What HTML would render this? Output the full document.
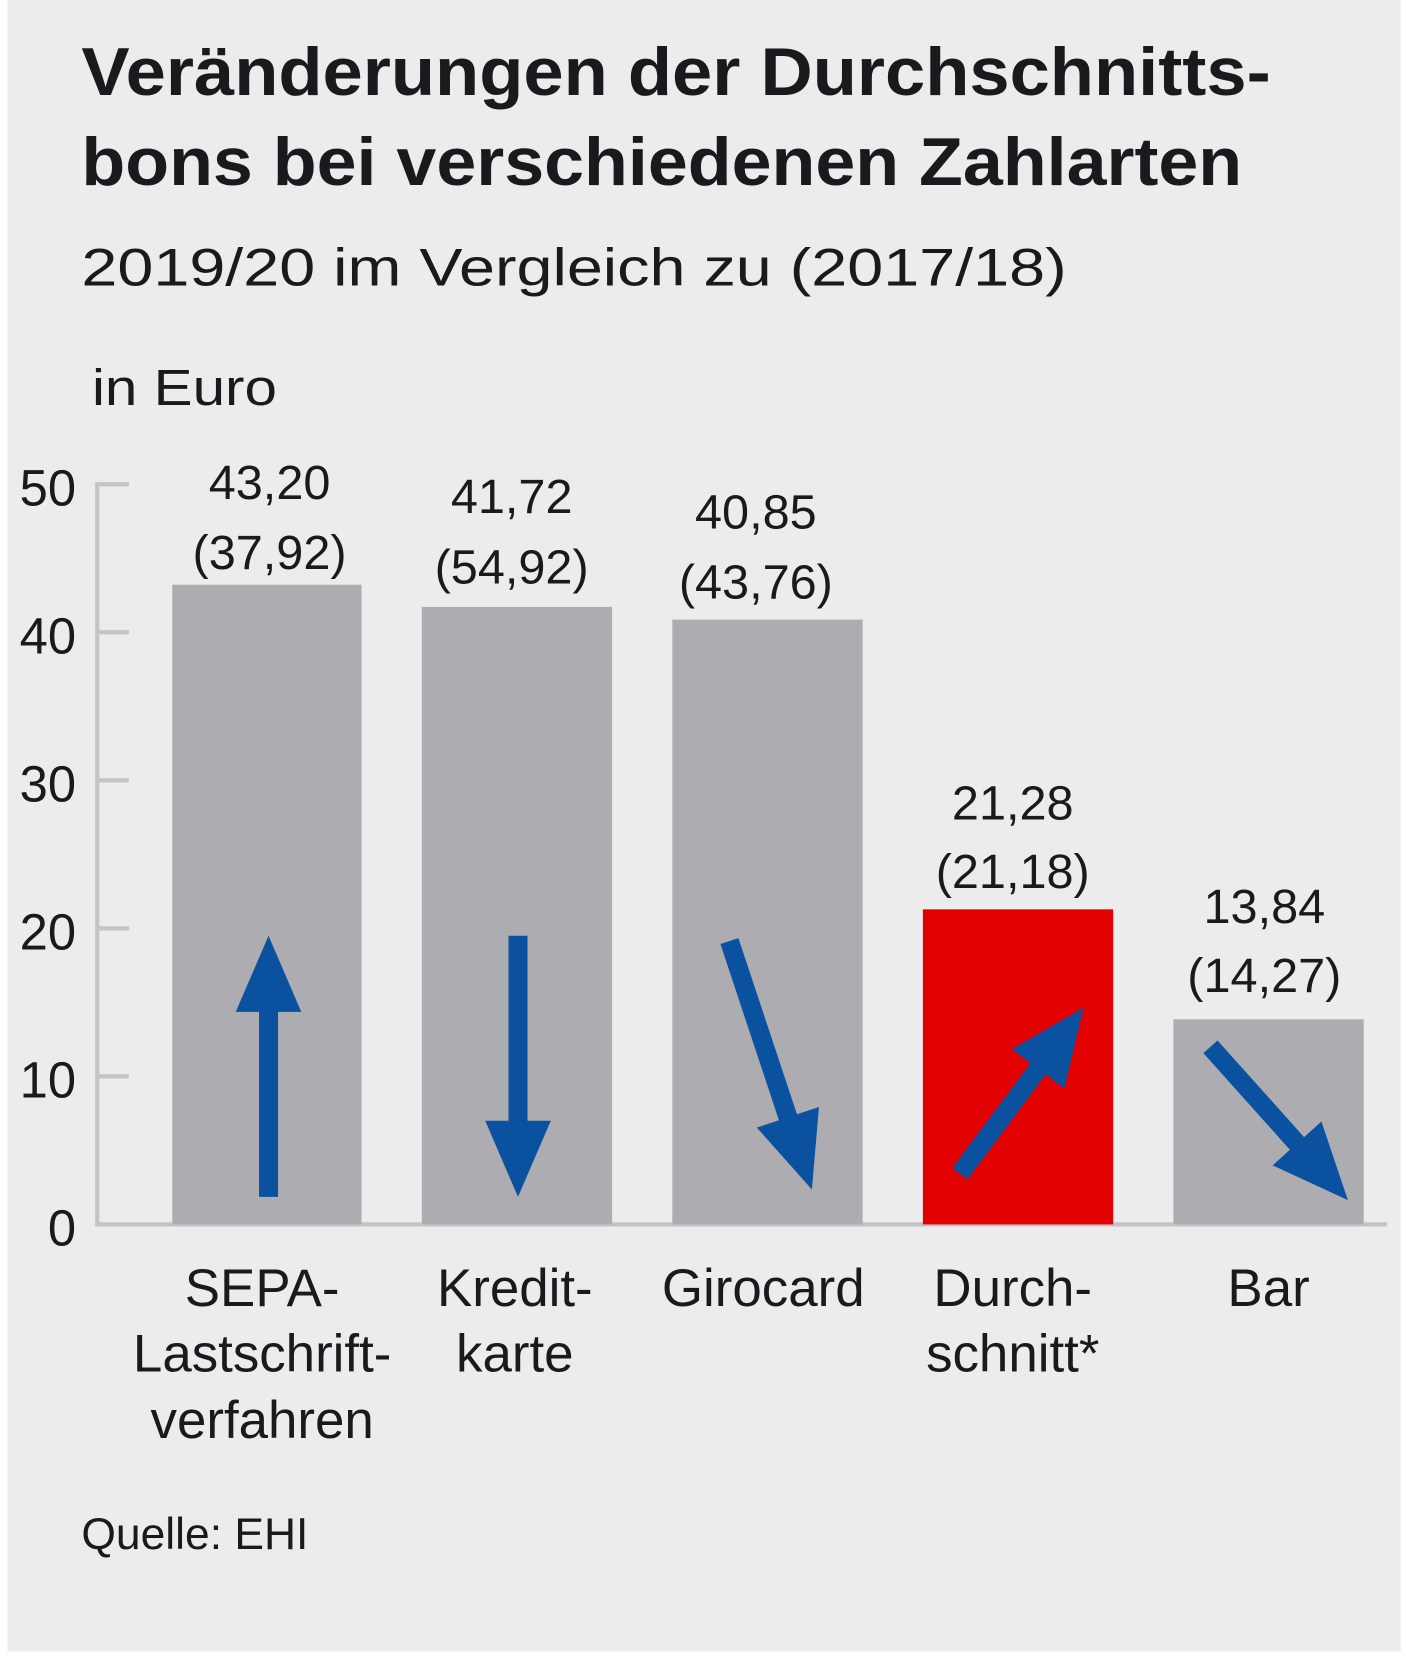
<!DOCTYPE html>
<html><head><meta charset="utf-8"><style>
html,body{margin:0;padding:0;background:#fff}
svg{display:block}
text{font-family:"Liberation Sans",sans-serif;fill:#1a1a1e}
</style></head><body>
<svg width="1406" height="1659" viewBox="0 0 1330 1569" preserveAspectRatio="none" xmlns="http://www.w3.org/2000/svg">
<rect x="7" y="0" width="1318" height="1562" fill="#ececec"/>
<text x="77" y="90" font-size="64" font-weight="bold" textLength="1125" lengthAdjust="spacingAndGlyphs">Veränderungen der Durchschnitts-</text>
<text x="77" y="175" font-size="64" font-weight="bold" textLength="1098" lengthAdjust="spacingAndGlyphs">bons bei verschiedenen Zahlarten</text>
<text x="77" y="270" font-size="50" textLength="932" lengthAdjust="spacingAndGlyphs">2019/20 im Vergleich zu (2017/18)</text>
<text x="87" y="383" font-size="48" textLength="175" lengthAdjust="spacingAndGlyphs">in Euro</text>
<g stroke="#c4c4c8" stroke-width="4">
<line x1="92" y1="456" x2="92" y2="1160"/>
<line x1="90" y1="1158" x2="1312" y2="1158"/>
<line x1="92" y1="458" x2="122" y2="458"/>
<line x1="92" y1="598" x2="122" y2="598"/>
<line x1="92" y1="738" x2="122" y2="738"/>
<line x1="92" y1="878" x2="122" y2="878"/>
<line x1="92" y1="1018" x2="122" y2="1018"/>
</g>
<g font-size="48" text-anchor="end">
<text x="72" y="478">50</text><text x="72" y="618">40</text><text x="72" y="758">30</text>
<text x="72" y="898">20</text><text x="72" y="1038">10</text><text x="72" y="1178">0</text>
</g>
<rect x="163" y="553" width="179" height="605" fill="#adacb0"/>
<rect x="399" y="574" width="180" height="584" fill="#adacb0"/>
<rect x="636" y="586" width="180" height="572" fill="#adacb0"/>
<rect x="873" y="860" width="180" height="298" fill="#e30000"/>
<rect x="1110" y="964" width="180" height="194" fill="#adacb0"/>
<g font-size="46" text-anchor="middle">
<text x="255" y="472">43,20</text><text x="255" y="538">(37,92)</text>
<text x="484" y="485">41,72</text><text x="484" y="552">(54,92)</text>
<text x="715" y="500">40,85</text><text x="715" y="566">(43,76)</text>
<text x="958" y="775">21,28</text><text x="958" y="840">(21,18)</text>
<text x="1196" y="873">13,84</text><text x="1196" y="938">(14,27)</text>
</g>
<g font-size="50" text-anchor="middle">
<text x="248" y="1235">SEPA-</text><text x="248" y="1297">Lastschrift-</text><text x="248" y="1360">verfahren</text>
<text x="487" y="1235">Kredit-</text><text x="487" y="1297">karte</text>
<text x="722" y="1235">Girocard</text>
<text x="958" y="1235">Durch-</text><text x="958" y="1297">schnitt*</text>
<text x="1200" y="1235">Bar</text>
</g>
<text x="77" y="1465" font-size="42">Quelle: EHI</text>
<g id="arrows" fill="#0a52a0"></g>
<script>
var arrs=[[254,1132,254,885],[490,885,490,1132],[690,890,768,1125],[908,1110,1025,953],[1145,990,1275,1135]];
var g=document.getElementById('arrows');
arrs.forEach(function(a){
 var dx=a[2]-a[0],dy=a[3]-a[1],L=Math.sqrt(dx*dx+dy*dy),ux=dx/L,uy=dy/L,px=-uy,py=ux;
 var w=9,hw=31,hl=72,bx=a[2]-ux*hl,by=a[3]-uy*hl;
 var pts=[[a[0]+px*w,a[1]+py*w],[bx+px*w,by+py*w],[bx+px*hw,by+py*hw],[a[2],a[3]],[bx-px*hw,by-py*hw],[bx-px*w,by-py*w],[a[0]-px*w,a[1]-py*w]];
 var p=document.createElementNS('http://www.w3.org/2000/svg','polygon');
 p.setAttribute('points',pts.map(function(q){return q[0].toFixed(1)+','+q[1].toFixed(1)}).join(' '));
 g.appendChild(p);
});
</script>
</svg>
</body></html>
